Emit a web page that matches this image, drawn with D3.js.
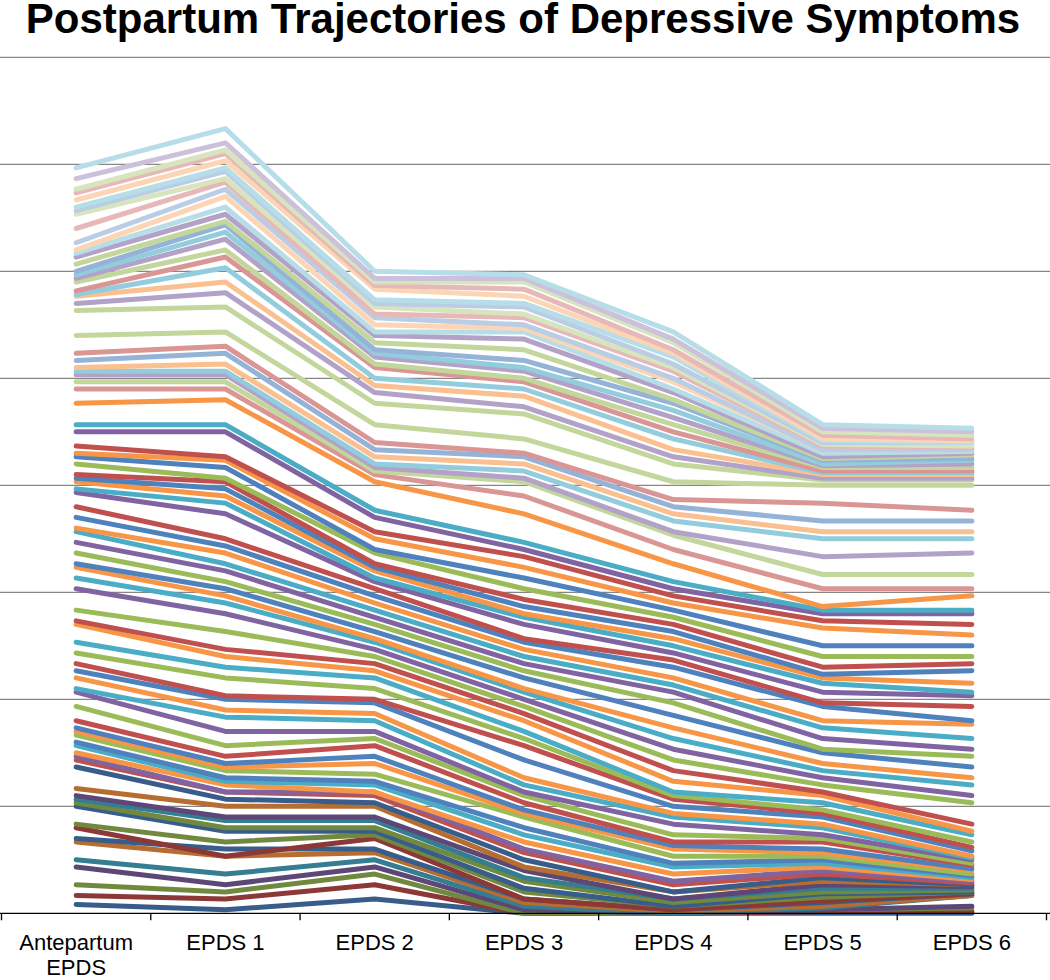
<!DOCTYPE html>
<html>
<head>
<meta charset="utf-8">
<script src="https://cdn.jsdelivr.net/npm/d3@7"></script>
<style>
  body { margin: 0; background: #fff; }
  svg { display: block; font-family: "Liberation Sans", Arial, sans-serif; }
</style>
</head>
<body>
<svg id="chart"></svg>
<script>
// categories on the x axis
const categories = ["Antepartum EPDS", "EPDS 1", "EPDS 2", "EPDS 3", "EPDS 4", "EPDS 5", "EPDS 6"];

// one value per woman at each time point, listed from the top line down
const antepartum = [20.9,20.6,20.3,20.2,20.0,19.8,19.7,19.6,19.2,18.8,18.6,18.5,18.4,18.2,18.0,17.9,17.8,17.7,17.45,17.35,17.3,17.1,16.9,
  16.2,15.7,15.5,15.3,15.2,15.1,14.9,14.7,14.3,
  13.7,13.5,
  13.1,12.9,12.8,12.6,12.3,12.2,12.1,11.9,11.8,11.4,11.1,10.8,10.7,10.4,10.1,9.8,9.7,9.4,9.1,8.5,8.2,8.1,7.6,7.3,
  7.0,6.8,6.6,6.3,6.2,5.8,5.4,5.2,5.1,5.0,4.8,4.7,4.5,4.4,4.3,4.1,3.5,3.3,3.2,3.1,3.0,2.5,2.4,2.1,2.0,1.5,1.3,0.8,0.5,0.25];

const epds1 = [22.0,21.6,21.4,21.3,21.1,20.9,20.8,20.6,20.5,20.3,20.1,19.8,19.6,19.4,19.3,19.1,18.9,18.6,18.4,18.1,17.7,17.4,17.0,
  16.3,15.9,15.7,15.4,15.2,15.1,14.9,14.7,14.4,
  13.7,13.5,
  12.8,12.7,12.5,12.2,12.1,11.9,11.7,11.5,11.2,10.5,10.3,10.1,9.8,9.6,9.3,9.1,8.9,8.7,8.4,7.9,7.4,7.2,6.9,6.6,
  6.1,6.0,5.7,5.5,5.1,4.7,4.4,4.2,4.1,4.0,3.8,3.7,3.6,3.4,3.4,3.2,3.0,2.7,2.6,2.4,2.3,2.0,1.6,1.8,1.6,1.1,0.8,0.6,0.4,0.1];

const epds2 = [18.0,17.8,17.7,17.6,17.5,17.2,17.1,17.0,16.8,16.7,16.5,16.3,16.2,16.0,15.8,15.7,15.6,15.4,15.3,15.0,14.8,14.6,14.3,
  13.7,13.2,13.0,12.8,12.6,12.5,12.4,12.3,12.1,
  11.3,11.1,
  10.7,10.5,10.2,10.1,9.8,9.7,9.6,9.4,9.3,9.1,8.9,8.7,8.5,8.3,8.1,7.9,7.7,7.6,7.4,7.2,7.0,6.8,6.6,6.3,
  6.0,5.9,5.6,5.4,5.1,4.9,4.7,4.4,4.2,3.9,3.7,3.6,3.4,3.4,3.3,3.1,3.0,2.7,2.6,2.4,2.3,2.2,2.1,1.8,1.7,1.5,1.3,1.1,0.8,0.4];

const epds3 = [17.9,17.8,17.7,17.5,17.3,17.1,17.0,16.8,16.7,16.5,16.4,16.3,16.1,15.8,15.5,15.3,15.2,15.0,14.9,14.7,14.5,14.2,14.0,
  13.3,12.9,12.8,12.6,12.4,12.2,12.1,11.7,11.2,
  10.4,10.2,
  10.0,9.7,9.4,9.1,8.8,8.6,8.4,8.3,8.1,7.7,7.6,7.4,7.2,7.0,6.8,6.6,6.3,6.2,6.0,5.8,5.6,5.4,5.1,4.9,
  4.7,4.3,3.8,3.6,3.4,3.3,3.1,2.9,2.8,2.7,2.4,2.2,2.0,1.8,1.7,1.5,1.3,1.2,1.0,0.9,0.7,0.6,0.4,0.4,0.3,0.2,0.1,0,0,0];

const epds4 = [16.3,16.1,16.0,15.8,15.7,15.6,15.4,15.3,15.2,15.0,14.9,14.7,14.6,14.4,14.3,14.1,13.9,13.7,13.5,13.3,13.0,12.8,12.6,
  12.1,11.6,11.4,11.2,11.0,10.7,10.6,10.2,9.8,
  9.3,9.1,
  8.9,8.7,8.5,8.3,8.1,7.9,7.7,7.5,7.3,7.1,6.9,6.6,6.4,6.2,5.9,5.55,5.2,4.9,4.6,4.3,4.0,3.7,3.4,3.3,
  3.2,3.0,2.8,2.7,2.5,2.2,2.0,1.9,1.8,1.6,1.4,1.3,1.1,0.9,0.8,0.6,0.6,0.4,0.4,0.3,0.2,0.2,0.1,0.1,0.05,0,0,0,0,0];

const epds5 = [13.7,13.6,13.5,13.4,13.3,13.25,13.2,13.15,13.1,13.0,13.0,12.9,12.8,12.75,12.7,12.6,12.55,12.5,12.4,12.35,12.3,12.2,12.15,
  12.0,11.5,11.0,10.7,10.5,10.0,9.5,9.1,8.6,
  8.5,8.4,
  8.2,8.0,7.5,7.2,6.9,6.7,6.6,6.45,6.2,5.9,5.8,5.4,5.2,4.9,4.6,4.5,4.2,4.0,3.8,3.6,3.4,3.3,3.1,2.9,
  2.8,2.7,2.5,2.4,2.2,2.1,2.0,1.8,1.7,1.6,1.5,1.4,1.3,1.2,1.1,1.0,0.9,0.8,0.7,0.6,0.55,0.45,0.35,0.3,0.2,0.15,0.1,0.1,0.05,0];

const epds6 = [13.6,13.5,13.4,13.3,13.25,13.2,13.2,13.1,13.05,13.0,13.0,12.95,12.9,12.85,12.75,12.7,12.6,12.5,12.4,12.35,12.3,12.2,12.15,
  12.0,11.3,11.0,10.7,10.5,10.1,9.5,9.1,8.9,
  8.5,8.4,
  8.1,7.8,7.5,7.2,7.0,6.8,6.45,6.2,6.1,5.8,5.4,5.3,4.9,4.6,4.4,4.1,3.8,3.6,3.3,3.1,2.5,2.3,2.2,2.0,
  1.85,1.75,1.6,1.55,1.5,1.4,1.35,1.25,1.2,1.1,1.05,1.0,0.95,0.9,0.85,0.8,0.8,0.75,0.7,0.65,0.6,0.6,0.55,0.55,0.5,0.5,0.2,0.15,0.05,0];

const gridValues = [3, 6, 9, 12, 15, 18, 21, 24];

// hue of each line as read at its left end, same order as the data (top down)
const lineHue = "apgroabgrboapgbapgraop" + "g" + "grboapgro" + "ap" + "robgrboaprboapgboapgroag" +
                "rboapgrbogbaoprbopagbgrboapgrb";

// office palette: base, tints and one shade
const hueIndex = {b: 0, r: 1, g: 2, p: 3, a: 4, o: 5};
const base   = ["#4F81BD","#C0504D","#9BBB59","#8064A2","#4BACC6","#F79646"];
const dark   = ["#385D8A","#8C3836","#71893F","#5C4776","#357D91","#B66D31"];
const tint40 = ["#95B3D7","#D99694","#C3D69B","#B3A2C7","#93CDDD","#FAC090"];
const tint60 = ["#B9CDE5","#E6B9B8","#D7E4BD","#CCC1DA","#B7DEE8","#FCD5B5"];

const width = 1050, height = 980;
const columns = [antepartum, epds1, epds2, epds3, epds4, epds5, epds6];
const n = antepartum.length;
const rows = d3.range(n).map(k => columns.map((col, j) => ({cat: categories[j], v: col[k]})));

const svg = d3.select("#chart")
    .attr("width", width)
    .attr("height", height);

const x = d3.scaleBand()
    .domain(categories)
    .range([1.5, 1046.5]);

const y = d3.scaleLinear()
    .domain([0, 24])
    .range([913.3, 57.3]);

// gridlines
svg.append("g")
    .selectAll("line")
    .data(gridValues)
    .join("line")
    .attr("x1", 0)
    .attr("x2", width)
    .attr("y1", d => y(d))
    .attr("y2", d => y(d))
    .attr("stroke", "#868686")
    .attr("stroke-width", 1.3);

const line = d3.line()
    .x(d => x(d.cat) + x.bandwidth() / 2)
    .y(d => y(d.v));

function colorFor(k) {
    const h = hueIndex[lineHue[k]] ?? ((n - 1 - k) % 6);
    if (k < 12) return tint60[h];
    if (k < 31) return tint40[h];
    if (k < 73) return base[h];
    return dark[h];
}

// lines, drawn from the bottom one up
svg.append("g")
    .selectAll("path")
    .data(d3.range(n).reverse())
    .join("path")
    .attr("d", k => line(rows[k]))
    .attr("fill", "none")
    .attr("stroke", k => colorFor(k))
    .attr("stroke-width", 5)
    .attr("stroke-linecap", "round")
    .attr("stroke-linejoin", "round");

// x axis: baseline with ticks between the categories
const xAxis = svg.append("g")
    .attr("transform", `translate(0,${y(0)})`)
    .call(d3.axisBottom(x).tickSize(0).tickPadding(21))
    .call(g => g.select(".domain").attr("stroke", "#000").attr("stroke-width", 1.3).attr("d", `M0,0H${width}`));

xAxis.selectAll(".tick text")
    .attr("fill", "#000")
    .style("font-size", "22px")
    .style("font-family", "'Liberation Sans', Arial, sans-serif")
    .each(function(d) {
        const words = d.split(" ");
        const t = d3.select(this).text(null);
        if (d.startsWith("Antepartum")) {
            t.append("tspan").attr("x", 0).attr("dy", "0.71em").text(words[0]);
            t.append("tspan").attr("x", 0).attr("dy", "1.15em").text(words[1]);
        } else {
            t.append("tspan").attr("x", 0).attr("dy", "0.71em").text(d);
        }
    });

xAxis.selectAll(".boundary")
    .data(d3.range(categories.length + 1))
    .join("line")
    .attr("class", "boundary")
    .attr("x1", i => x.range()[0] + i * x.step())
    .attr("x2", i => x.range()[0] + i * x.step())
    .attr("y1", 0)
    .attr("y2", 7)
    .attr("stroke", "#000")
    .attr("stroke-width", 1.3);

// title
svg.append("text")
    .attr("x", 523)
    .attr("y", 33)
    .attr("text-anchor", "middle")
    .style("font-size", "42px")
    .style("font-weight", "bold")
    .text("Postpartum Trajectories of Depressive Symptoms");
</script>
</body>
</html>
